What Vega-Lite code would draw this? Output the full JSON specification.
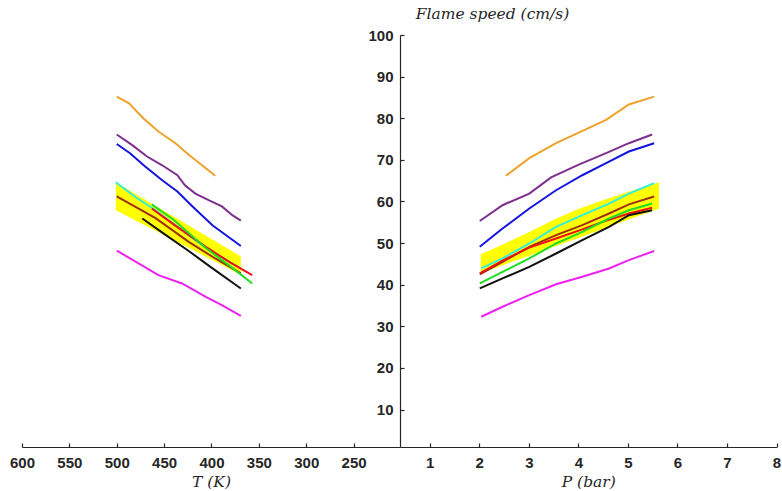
{
  "$schema": "https://vega.github.io/schema/vega-lite/v6.json",
  "background": "white",
  "padding": {"left": 9, "top": 6, "right": 0, "bottom": 0},
  "spacing": 0,
  "bounds": "flush",
  "config": {
    "view": {"stroke": null},
    "axis": {
      "grid": false,
      "domainColor": "#262626",
      "domainWidth": 1.2,
      "tickColor": "#262626",
      "tickWidth": 1.2,
      "tickSize": -4,
      "labelFlush": false,
      "labelFont": "Liberation Sans",
      "labelFontWeight": "bold",
      "labelFontSize": 15,
      "labelColor": "#262626",
      "titleFont": "DejaVu Serif",
      "titleFontStyle": "italic",
      "titleFontWeight": "normal",
      "titleFontSize": 15.5,
      "titleColor": "#262626"
    }
  },
  "datasets": {
    "leftband": [
      {"T": 501, "lo": 57.9, "hi": 64.6},
      {"T": 369, "lo": 42.4, "hi": 46.8}
    ],
    "rightband": [
      {"P": 2.03, "lo": 42.7, "hi": 47.3},
      {"P": 2.5, "lo": 44.8, "hi": 49.8},
      {"P": 3.0, "lo": 46.9, "hi": 52.6},
      {"P": 3.5, "lo": 49.1, "hi": 55.6},
      {"P": 4.0, "lo": 51.2, "hi": 58.2},
      {"P": 4.5, "lo": 53.4, "hi": 60.3},
      {"P": 5.0, "lo": 55.6, "hi": 62.3},
      {"P": 5.63, "lo": 58.3, "hi": 64.6}
    ],
    "left": [
      {"s": "orange", "T": 500, "v": 85.2},
      {"s": "orange", "T": 487, "v": 83.6},
      {"s": "orange", "T": 472, "v": 80.0},
      {"s": "orange", "T": 456, "v": 76.8},
      {"s": "orange", "T": 438, "v": 74.0},
      {"s": "orange", "T": 424, "v": 71.2},
      {"s": "orange", "T": 396, "v": 66.2},
      {"s": "purple", "T": 500, "v": 76.1},
      {"s": "purple", "T": 484, "v": 73.6},
      {"s": "purple", "T": 468, "v": 70.8},
      {"s": "purple", "T": 452, "v": 68.7},
      {"s": "purple", "T": 436, "v": 66.3},
      {"s": "purple", "T": 428, "v": 63.9},
      {"s": "purple", "T": 417, "v": 61.9},
      {"s": "purple", "T": 403, "v": 60.3},
      {"s": "purple", "T": 389, "v": 58.8},
      {"s": "purple", "T": 378, "v": 56.7},
      {"s": "purple", "T": 369, "v": 55.4},
      {"s": "blue", "T": 500, "v": 73.8},
      {"s": "blue", "T": 486, "v": 71.6},
      {"s": "blue", "T": 470, "v": 68.4},
      {"s": "blue", "T": 452, "v": 65.1},
      {"s": "blue", "T": 436, "v": 62.4},
      {"s": "blue", "T": 420, "v": 58.8},
      {"s": "blue", "T": 399, "v": 54.3},
      {"s": "blue", "T": 369, "v": 49.3},
      {"s": "cyan", "T": 501, "v": 64.6},
      {"s": "cyan", "T": 480, "v": 61.0},
      {"s": "cyan", "T": 459, "v": 57.9},
      {"s": "cyan", "T": 441, "v": 54.8},
      {"s": "cyan", "T": 420, "v": 51.2},
      {"s": "cyan", "T": 400, "v": 48.0},
      {"s": "cyan", "T": 385, "v": 46.0},
      {"s": "cyan", "T": 369, "v": 43.9},
      {"s": "brown", "T": 500, "v": 61.2},
      {"s": "brown", "T": 459, "v": 56.0},
      {"s": "brown", "T": 424, "v": 50.3},
      {"s": "brown", "T": 396, "v": 46.3},
      {"s": "brown", "T": 369, "v": 42.7},
      {"s": "red", "T": 463, "v": 58.3},
      {"s": "red", "T": 440, "v": 54.5},
      {"s": "red", "T": 406, "v": 49.1},
      {"s": "red", "T": 380, "v": 45.3},
      {"s": "red", "T": 357, "v": 42.3},
      {"s": "green", "T": 463, "v": 59.3},
      {"s": "green", "T": 440, "v": 55.6},
      {"s": "green", "T": 406, "v": 48.8},
      {"s": "green", "T": 380, "v": 44.4},
      {"s": "green", "T": 357, "v": 40.3},
      {"s": "black", "T": 473, "v": 55.9},
      {"s": "black", "T": 450, "v": 52.2},
      {"s": "black", "T": 424, "v": 48.1},
      {"s": "black", "T": 400, "v": 44.1},
      {"s": "black", "T": 369, "v": 39.1},
      {"s": "magenta", "T": 500, "v": 48.2},
      {"s": "magenta", "T": 477, "v": 45.1},
      {"s": "magenta", "T": 456, "v": 42.3},
      {"s": "magenta", "T": 431, "v": 40.3},
      {"s": "magenta", "T": 406, "v": 37.1},
      {"s": "magenta", "T": 389, "v": 35.1},
      {"s": "magenta", "T": 369, "v": 32.5}
    ],
    "right": [
      {"s": "orange", "P": 2.54, "v": 66.2},
      {"s": "orange", "P": 3.01, "v": 70.4},
      {"s": "orange", "P": 3.55, "v": 74.0},
      {"s": "orange", "P": 4.02, "v": 76.6},
      {"s": "orange", "P": 4.56, "v": 79.6},
      {"s": "orange", "P": 5.02, "v": 83.3},
      {"s": "orange", "P": 5.53, "v": 85.2},
      {"s": "purple", "P": 2.01, "v": 55.3},
      {"s": "purple", "P": 2.47, "v": 59.1},
      {"s": "purple", "P": 3.01, "v": 61.9},
      {"s": "purple", "P": 3.45, "v": 65.8},
      {"s": "purple", "P": 4.02, "v": 68.9},
      {"s": "purple", "P": 4.56, "v": 71.6},
      {"s": "purple", "P": 5.02, "v": 74.0},
      {"s": "purple", "P": 5.49, "v": 76.1},
      {"s": "blue", "P": 2.01, "v": 49.1},
      {"s": "blue", "P": 2.47, "v": 53.5},
      {"s": "blue", "P": 3.01, "v": 58.3},
      {"s": "blue", "P": 3.55, "v": 62.7},
      {"s": "blue", "P": 4.08, "v": 66.3},
      {"s": "blue", "P": 4.56, "v": 69.2},
      {"s": "blue", "P": 5.02, "v": 72.0},
      {"s": "blue", "P": 5.53, "v": 74.0},
      {"s": "cyan", "P": 2.04, "v": 43.9},
      {"s": "cyan", "P": 2.47, "v": 46.3},
      {"s": "cyan", "P": 3.01, "v": 49.9},
      {"s": "cyan", "P": 3.55, "v": 53.9},
      {"s": "cyan", "P": 4.08, "v": 56.7},
      {"s": "cyan", "P": 4.62, "v": 59.5},
      {"s": "cyan", "P": 5.02, "v": 61.9},
      {"s": "cyan", "P": 5.53, "v": 64.4},
      {"s": "brown", "P": 2.01, "v": 42.5},
      {"s": "brown", "P": 2.47, "v": 45.5},
      {"s": "brown", "P": 3.01, "v": 49.1},
      {"s": "brown", "P": 3.55, "v": 51.9},
      {"s": "brown", "P": 4.08, "v": 54.3},
      {"s": "brown", "P": 4.62, "v": 57.1},
      {"s": "brown", "P": 5.02, "v": 59.3},
      {"s": "brown", "P": 5.53, "v": 61.2},
      {"s": "red", "P": 2.01, "v": 42.7},
      {"s": "red", "P": 2.47, "v": 45.8},
      {"s": "red", "P": 3.01, "v": 48.9},
      {"s": "red", "P": 3.55, "v": 51.1},
      {"s": "red", "P": 4.08, "v": 53.3},
      {"s": "red", "P": 4.49, "v": 55.1},
      {"s": "red", "P": 5.02, "v": 57.1},
      {"s": "red", "P": 5.49, "v": 58.5},
      {"s": "green", "P": 2.01, "v": 40.3},
      {"s": "green", "P": 2.47, "v": 43.1},
      {"s": "green", "P": 3.01, "v": 46.3},
      {"s": "green", "P": 3.55, "v": 49.9},
      {"s": "green", "P": 4.08, "v": 52.7},
      {"s": "green", "P": 4.62, "v": 55.9},
      {"s": "green", "P": 5.02, "v": 57.9},
      {"s": "green", "P": 5.49, "v": 59.5},
      {"s": "black", "P": 2.01, "v": 39.1},
      {"s": "black", "P": 2.47, "v": 41.5},
      {"s": "black", "P": 3.01, "v": 44.3},
      {"s": "black", "P": 3.55, "v": 47.5},
      {"s": "black", "P": 4.08, "v": 50.7},
      {"s": "black", "P": 4.62, "v": 53.9},
      {"s": "black", "P": 5.02, "v": 56.7},
      {"s": "black", "P": 5.49, "v": 57.9},
      {"s": "magenta", "P": 2.04, "v": 32.3},
      {"s": "magenta", "P": 2.47, "v": 34.7},
      {"s": "magenta", "P": 3.01, "v": 37.5},
      {"s": "magenta", "P": 3.55, "v": 40.1},
      {"s": "magenta", "P": 4.08, "v": 41.9},
      {"s": "magenta", "P": 4.62, "v": 43.9},
      {"s": "magenta", "P": 5.02, "v": 45.9},
      {"s": "magenta", "P": 5.53, "v": 48.1}
    ]
  },
  "resolve": {"scale": {"x": "independent"}},
  "hconcat": [
    {
      "width": 378,
      "height": 412,
      "encoding": {
        "x": {
          "field": "T",
          "type": "quantitative",
          "scale": {"domain": [201, 600], "reverse": true, "nice": false, "zero": false},
          "axis": {
            "values": [250, 300, 350, 400, 450, 500, 550, 600],
            "title": "T (K)",
            "labelPadding": 12,
            "titleY": 34,
            "titleBaseline": "middle"
          }
        }
      },
      "layer": [
        {
          "data": {"name": "leftband"},
          "mark": {"type": "area", "color": "#FFFF00", "opacity": 1},
          "encoding": {
            "y": {"field": "hi", "type": "quantitative", "scale": {"domain": [1, 100], "nice": false, "zero": false}, "axis": null},
            "y2": {"field": "lo"}
          }
        },
        {
          "data": {"name": "left"},
          "mark": {"type": "line", "strokeWidth": 2},
          "encoding": {
            "y": {"field": "v", "type": "quantitative", "scale": {"domain": [1, 100], "nice": false, "zero": false}, "axis": null},
            "color": {
              "field": "s",
              "type": "nominal",
              "legend": null,
              "scale": {
                "domain": ["orange", "purple", "blue", "cyan", "brown", "red", "green", "black", "magenta"],
                "range": ["#EEA22A", "#7E2F8E", "#1414E0", "#33EEDD", "#9E2F12", "#EE1111", "#22DD22", "#111111", "#EE22EE"]
              }
            }
          }
        }
      ]
    },
    {
      "width": 376.5,
      "height": 412,
      "encoding": {
        "x": {
          "field": "P",
          "type": "quantitative",
          "scale": {"domain": [0.4, 8], "nice": false, "zero": false},
          "axis": {
            "values": [1, 2, 3, 4, 5, 6, 7, 8],
            "title": "P (bar)",
            "labelPadding": 12,
            "titleY": 34,
            "titleBaseline": "middle"
          }
        }
      },
      "layer": [
        {
          "data": {"name": "rightband"},
          "mark": {"type": "area", "color": "#FFFF00", "opacity": 1},
          "encoding": {
            "y": {
              "field": "hi",
              "type": "quantitative",
              "scale": {"domain": [1, 100], "nice": false, "zero": false},
              "axis": {
                "values": [10, 20, 30, 40, 50, 60, 70, 80, 90, 100],
                "title": "Flame speed (cm/s)",
                "titleAngle": 0,
                "titleX": 92,
                "titleY": -22,
                "titleAlign": "center",
                "titleBaseline": "middle",
                "labelPadding": 11
              }
            },
            "y2": {"field": "lo"}
          }
        },
        {
          "data": {"name": "right"},
          "mark": {"type": "line", "strokeWidth": 2},
          "encoding": {
            "y": {"field": "v", "type": "quantitative", "scale": {"domain": [1, 100], "nice": false, "zero": false}},
            "color": {
              "field": "s",
              "type": "nominal",
              "legend": null,
              "scale": {
                "domain": ["orange", "purple", "blue", "cyan", "brown", "red", "green", "black", "magenta"],
                "range": ["#EEA22A", "#7E2F8E", "#1414E0", "#33EEDD", "#9E2F12", "#EE1111", "#22DD22", "#111111", "#EE22EE"]
              }
            }
          }
        }
      ]
    }
  ]
}
